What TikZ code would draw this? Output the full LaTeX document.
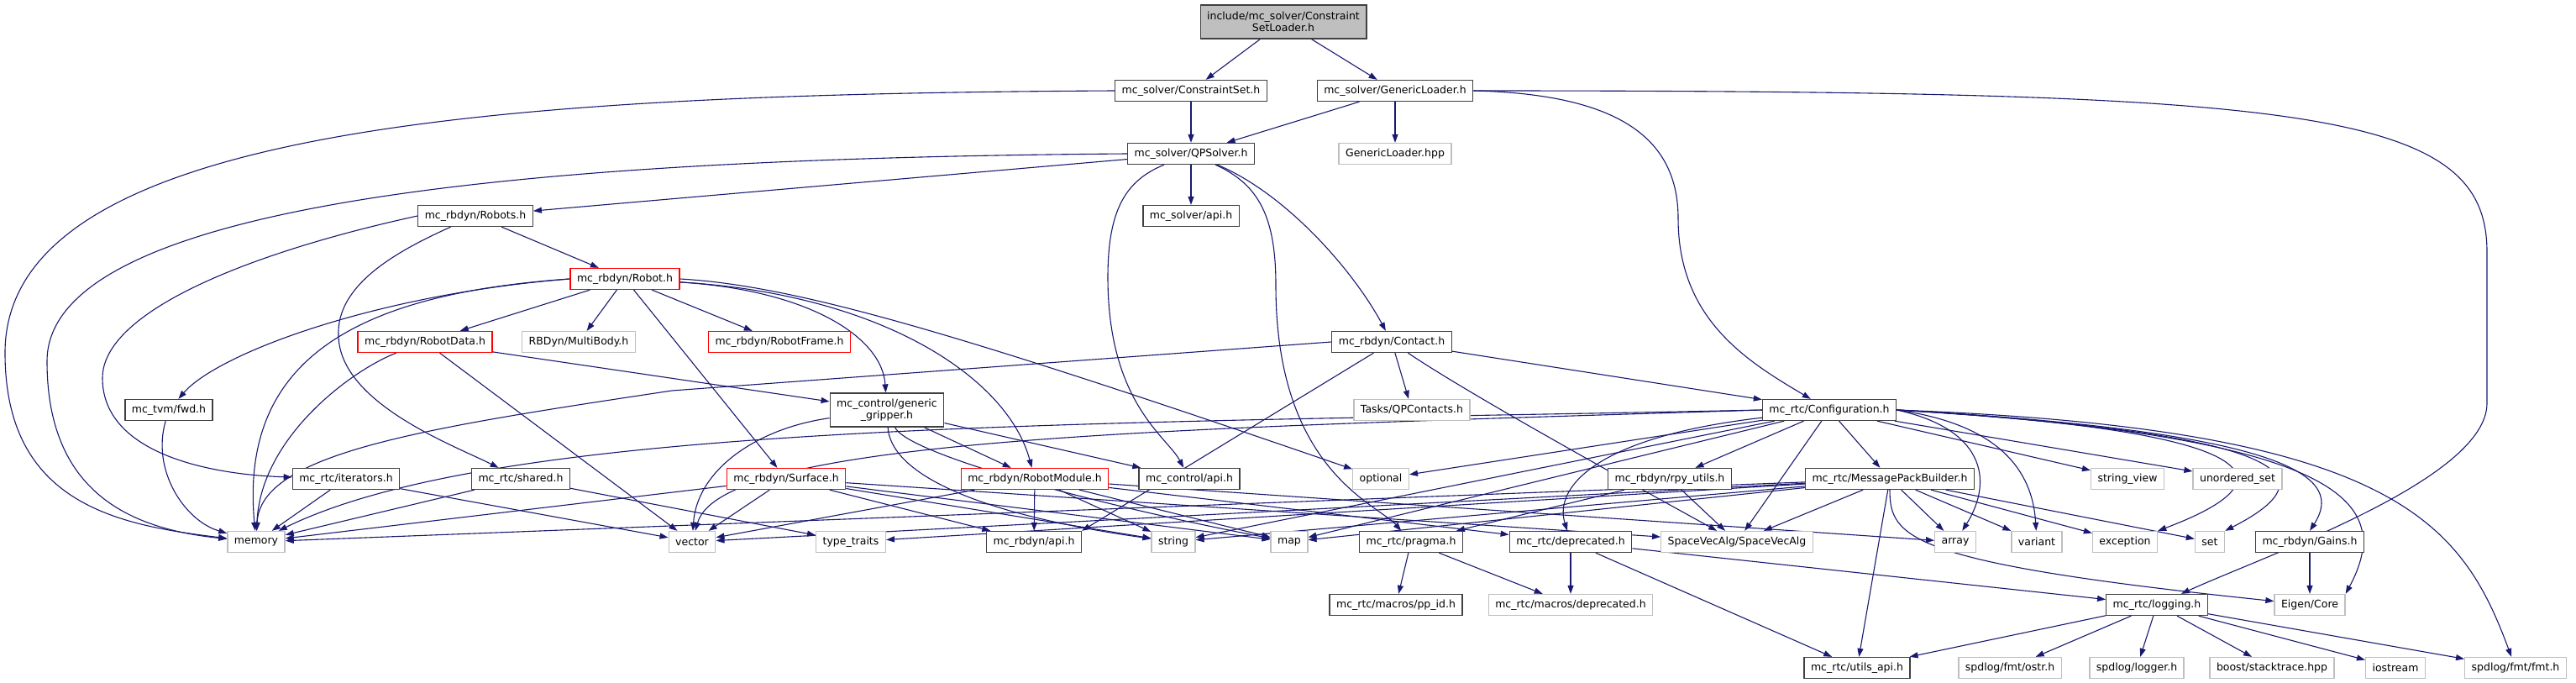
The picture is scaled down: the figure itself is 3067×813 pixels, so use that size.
\documentclass[tikz,border=0pt]{standalone}
\usepackage{fontspec}
\setmainfont{DejaVu Sans}
\usetikzlibrary{arrows.meta, backgrounds}
\definecolor{edgeblue}{RGB}{25,25,112}
\definecolor{extgray}{RGB}{191,191,191}
\definecolor{boxdark}{RGB}{64,64,64}

\begin{document}
\begin{tikzpicture}[x=1pt, y=-1pt, font=\fontsize{12.5}{14.5}\selectfont,
    hdr/.style={draw=boxdark, fill=white, line width=1.3pt, inner xsep=8pt, inner ysep=0pt, minimum height=25pt, align=center},
    hdrred/.style={hdr, draw=red},
    hdrext/.style={hdr, draw=extgray},
    dep/.style={draw=edgeblue, line width=1.1pt, -{Triangle[length=10pt,width=7pt]}}]
                \useasboundingbox (0,0) rectangle (3067,813);
                \node[hdr, fill=extgray, minimum height=40pt] (root) at (1528,26) {include/mc\_solver/Constraint\\SetLoader.h};
                \node[hdr] (cset) at (1418,108) {mc\_solver/ConstraintSet.h};
                \node[hdr] (gload) at (1661,108) {mc\_solver/GenericLoader.h};
                \node[hdr] (qps) at (1418,183) {mc\_solver/QPSolver.h};
                \node[hdrext] (ghpp) at (1661,183) {GenericLoader.hpp};
                \node[hdr] (robots) at (566,257) {mc\_rbdyn/Robots.h};
                \node[hdr] (sapi) at (1418,257) {mc\_solver/api.h};
                \node[hdrred] (robot) at (744,332) {mc\_rbdyn/Robot.h};
                \node[hdrred] (rdata) at (506,407) {mc\_rbdyn/RobotData.h};
                \node[hdrext] (mbody) at (689,407) {RBDyn/MultiBody.h};
                \node[hdrred] (rframe) at (928,407) {mc\_rbdyn/RobotFrame.h};
                \node[hdr] (contact) at (1657,407) {mc\_rbdyn/Contact.h};
                \node[hdr] (fwd) at (201,488) {mc\_tvm/fwd.h};
                \node[hdr, minimum height=40pt] (grip) at (1056,488) {mc\_control/generic\\\_gripper.h};
                \node[hdrext] (qpc) at (1681,488) {Tasks/QPContacts.h};
                \node[hdr] (config) at (2178,488) {mc\_rtc/Configuration.h};
                \node[hdr] (iter) at (412,570) {mc\_rtc/iterators.h};
                \node[hdr] (shared) at (620,570) {mc\_rtc/shared.h};
                \node[hdrred] (surface) at (936,570) {mc\_rbdyn/Surface.h};
                \node[hdrred] (rmod) at (1232,570) {mc\_rbdyn/RobotModule.h};
                \node[hdr] (capi) at (1416,570) {mc\_control/api.h};
                \node[hdrext] (optional) at (1644,570) {optional};
                \node[hdr] (rpy) at (1988,570) {mc\_rbdyn/rpy\_utils.h};
                \node[hdr] (mpb) at (2250,570) {mc\_rtc/MessagePackBuilder.h};
                \node[hdrext] (sview) at (2533,570) {string\_view};
                \node[hdrext] (uset) at (2664,570) {unordered\_set};
                \node[hdrext] (memory) at (305,645) {memory};
                \node[hdrext] (vector) at (824,645) {vector};
                \node[hdrext] (ttraits) at (1013,645) {type\_traits};
                \node[hdr] (rapi) at (1231,645) {mc\_rbdyn/api.h};
                \node[hdrext] (string) at (1397,645) {string};
                \node[hdrext] (map) at (1535,645) {map};
                \node[hdr] (pragma) at (1680,645) {mc\_rtc/pragma.h};
                \node[hdr] (depr) at (1870,645) {mc\_rtc/deprecated.h};
                \node[hdrext] (sva) at (2068,645) {SpaceVecAlg/SpaceVecAlg};
                \node[hdrext] (array) at (2328,645) {array};
                \node[hdrext] (variant) at (2425,645) {variant};
                \node[hdrext] (exception) at (2530,645) {exception};
                \node[hdrext] (set) at (2631,645) {set};
                \node[hdr] (gains) at (2750,645) {mc\_rbdyn/Gains.h};
                \node[hdr] (ppid) at (1662,720) {mc\_rtc/macros/pp\_id.h};
                \node[hdrext] (mdepr) at (1870,720) {mc\_rtc/macros/deprecated.h};
                \node[hdr] (logging) at (2568,720) {mc\_rtc/logging.h};
                \node[hdrext] (eigen) at (2750,720) {Eigen/Core};
                \node[hdr] (uapi) at (2211,795) {mc\_rtc/utils\_api.h};
                \node[hdrext] (ostr) at (2393,795) {spdlog/fmt/ostr.h};
                \node[hdrext] (logger) at (2544,795) {spdlog/logger.h};
                \node[hdrext] (stack) at (2705,795) {boost/stacktrace.hpp};
                \node[hdrext] (iostream) at (2852,795) {iostream};
                \node[hdrext] (fmt) at (2995,795) {spdlog/fmt/fmt.h};

                \begin{pgfonlayer}{background}
                \draw[dep] (root) -- (cset);
                \draw[dep] (root) -- (gload);
                \draw[dep] (cset) -- (qps);
                \draw[dep] (cset.west) .. controls (600,112) and (6,150) .. (6,420) .. controls (6,600) and (140,625) .. (memory);
                \draw[dep] (gload) -- (qps);
                \draw[dep] (gload) -- (ghpp);
                \draw[dep] (gload.east) .. controls (1920,112) and (1998,160) .. (1998,260) .. controls (1998,380) and (2080,430) .. (config);
                \draw[dep] (gload.east) .. controls (2750,108) and (2961,130) .. (2961,300) -- (2961,480) .. controls (2961,570) and (2700,660) .. (logging);
                \draw[dep] (qps) -- (robots);
                \draw[dep] (qps) -- (sapi);
                \draw[dep] (qps) .. controls (1530,230) and (1610,320) .. (contact);
                \draw[dep] (qps.west) .. controls (700,188) and (56,230) .. (56,430) .. controls (56,590) and (160,630) .. (memory);
                \draw[dep] (qps) .. controls (1340,215) and (1319,250) .. (1319,330) .. controls (1319,480) and (1390,520) .. (capi);
                \draw[dep] (qps) .. controls (1500,220) and (1519,260) .. (1519,340) .. controls (1519,560) and (1640,600) .. (pragma);
                \draw[dep] (robots) -- (robot);
                \draw[dep] (robots.west) .. controls (300,300) and (122,370) .. (122,450) .. controls (122,540) and (250,565) .. (iter);
                \draw[dep] (robots) .. controls (470,300) and (400,340) .. (403,400) .. controls (405,480) and (540,530) .. (shared);
                \draw[dep] (robot) -- (rdata);
                \draw[dep] (robot) -- (mbody);
                \draw[dep] (robot) -- (rframe);
                \draw[dep] (robot) -- (surface);
                \draw[dep] (robot.west) .. controls (450,350) and (260,420) .. (fwd);
                \draw[dep] (robot.west) .. controls (420,350) and (285,430) .. (memory);
                \draw[dep] (robot) .. controls (960,345) and (1050,400) .. (grip);
                \draw[dep] (robot) .. controls (1050,350) and (1200,450) .. (rmod);
                \draw[dep] (robot.east) .. controls (950,340) and (1150,400) .. (optional);
                \draw[dep] (rdata) .. controls (420,440) and (310,520) .. (memory);
                \draw[dep] (rdata) -- (vector);
                \draw[dep] (rdata) -- (grip);
                \draw[dep] (contact) -- (qpc);
                \draw[dep] (contact) -- (config);
                \draw[dep] (contact) .. controls (1750,470) and (1950,580) .. (sva);
                \draw[dep] (contact.west) -- (800,465) .. controls (500,510) and (310,540) .. (memory);
                \draw[dep] (contact) -- (rapi.north east);
                \draw[dep] (fwd) .. controls (180,560) and (220,620) .. (memory);
                \draw[dep] (iter) -- (memory);
                \draw[dep] (iter) -- (vector);
                \draw[dep] (shared) -- (memory);
                \draw[dep] (shared) -- (ttraits);
                \draw[dep] (grip) .. controls (900,510) and (830,560) .. (vector);
                \draw[dep] (grip) .. controls (1060,560) and (1150,610) .. (string);
                \draw[dep] (grip) .. controls (1080,540) and (1300,600) .. (map);
                \draw[dep] (grip) -- (rmod);
                \draw[dep] (grip) -- (capi);
                \draw[dep] (surface) -- (vector);
                \draw[dep] (surface) -- (memory);
                \draw[dep] (surface) -- (rapi);
                \draw[dep] (surface) -- (string);
                \draw[dep] (surface) -- (map);
                \draw[dep] (surface) -- (sva);
                \draw[dep] (rmod) -- (rapi);
                \draw[dep] (rmod) -- (vector);
                \draw[dep] (rmod) -- (string);
                \draw[dep] (rmod) -- (map);
                \draw[dep] (rmod) -- (depr);
                \draw[dep] (rmod) -- (array);
                \draw[dep] (config) -- (optional);
                \draw[dep] (config) -- (rpy);
                \draw[dep] (config) -- (mpb);
                \draw[dep] (config) -- (sva);
                \draw[dep] (config) -- (sview);
                \draw[dep] (config) -- (uset);
                \draw[dep] (config) -- (string);
                \draw[dep] (config) -- (map);
                \draw[dep] (config) .. controls (1900,520) and (1850,580) .. (depr);
                \draw[dep] (config.west) .. controls (1300,505) and (600,500) .. (memory);
                \draw[dep] (config.west) .. controls (1400,510) and (860,520) .. (vector);
                \draw[dep] (config.east) .. controls (2360,510) and (2375,570) .. (array);
                \draw[dep] (config.east) .. controls (2380,505) and (2420,560) .. (variant);
                \draw[dep] (config.east) .. controls (2650,510) and (2760,560) .. (exception.north east);
                \draw[dep] (config.east) .. controls (2700,515) and (2790,560) .. (set.north east);
                \draw[dep] (config.east) .. controls (2740,515) and (2790,570) .. (gains.north);
                \draw[dep] (config.east) .. controls (2800,520) and (2850,600) .. (eigen.north east);
                \draw[dep] (config.east) .. controls (2850,510) and (2930,620) .. (fmt);
                \draw[dep] (rpy) -- (sva);
                \draw[dep] (rpy) -- (pragma);
                \draw[dep] (mpb) -- (sva);
                \draw[dep] (mpb) -- (array);
                \draw[dep] (mpb) -- (variant);
                \draw[dep] (mpb) -- (exception);
                \draw[dep] (mpb) -- (set);
                \draw[dep] (mpb) -- (uapi);
                \draw[dep] (mpb) .. controls (2250,640) and (2270,670) .. (eigen);
                \draw[dep] (mpb) -- (string);
                \draw[dep] (mpb) -- (map);
                \draw[dep] (mpb) -- (vector);
                \draw[dep] (mpb) -- (memory);
                \draw[dep] (mpb) -- (ttraits);
                \draw[dep] (pragma) -- (ppid);
                \draw[dep] (pragma) -- (mdepr);
                \draw[dep] (depr) -- (mdepr);
                \draw[dep] (depr) -- (uapi);
                \draw[dep] (depr) -- (logging);
                \draw[dep] (logging) -- (uapi);
                \draw[dep] (logging) -- (ostr);
                \draw[dep] (logging) -- (logger);
                \draw[dep] (logging) -- (stack);
                \draw[dep] (logging) -- (iostream);
                \draw[dep] (logging) -- (fmt);
                \draw[dep] (gains) -- (eigen);
                \end{pgfonlayer}
\end{tikzpicture}
\end{document}
